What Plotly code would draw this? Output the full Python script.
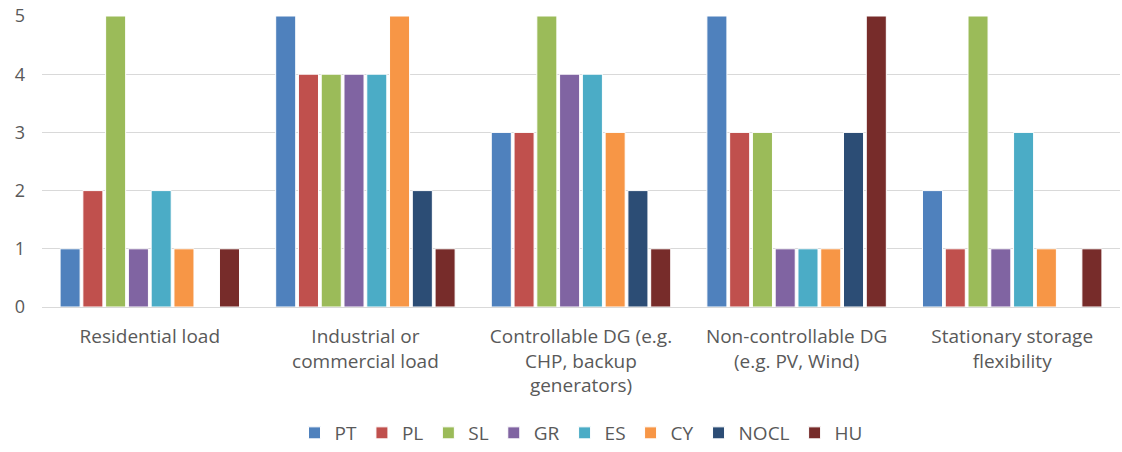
import plotly.graph_objects as go

categories = [
    "Residential load",
    "Industrial or<br>commercial load",
    "Controllable DG (e.g.<br>CHP, backup<br>generators)",
    "Non-controllable DG<br>(e.g. PV, Wind)",
    "Stationary storage<br>flexibility",
]

PT = [1, 5, 3, 5, 2]
PL = [2, 4, 3, 3, 1]
SL = [5, 4, 5, 3, 5]
GR = [1, 4, 4, 1, 1]
ES = [2, 4, 4, 1, 3]
CY = [1, 5, 3, 1, 1]
NOCL = [0, 2, 2, 3, 0]
HU = [1, 1, 1, 5, 1]

series = [
    ("PT", PT, "#4F81BD"),
    ("PL", PL, "#C0504D"),
    ("SL", SL, "#9BBB59"),
    ("GR", GR, "#8064A2"),
    ("ES", ES, "#4BACC6"),
    ("CY", CY, "#F79646"),
    ("NOCL", NOCL, "#2C4D75"),
    ("HU", HU, "#772C2A"),
]

fig = go.Figure()
for name, vals, color in series:
    fig.add_trace(go.Bar(
        name=name, x=categories, y=vals,
        marker=dict(color=color, line=dict(color="white", width=1)),
    ))

font_family = "Open Sans, Liberation Sans, sans-serif"
fig.update_layout(
    width=1122, height=452,
    margin=dict(l=42, r=2, t=16, b=145),
    paper_bgcolor="white", plot_bgcolor="white",
    barmode="group", bargap=0.155, bargroupgap=0.12,
    font=dict(family=font_family, color="#595959", size=19),
    showlegend=True,
    legend=dict(orientation="h", x=0.5, xanchor="center",
                yref="container", y=0.0, yanchor="bottom",
                font=dict(size=19, color="#595959"), itemwidth=30, traceorder="normal"),
    xaxis=dict(showline=True, linecolor="#D9D9D9", linewidth=1, ticks="",
               tickfont=dict(size=19, color="#595959"), showgrid=False,
               automargin=False, ticklabelstandoff=12),
    yaxis=dict(range=[0, 5], dtick=1, showgrid=True, gridcolor="#D9D9D9",
               zeroline=False, showline=False, ticks="",
               tickfont=dict(size=18, color="#595959"),
               automargin=False, ticklabelstandoff=16),
)

fig.write_html("out.html")
